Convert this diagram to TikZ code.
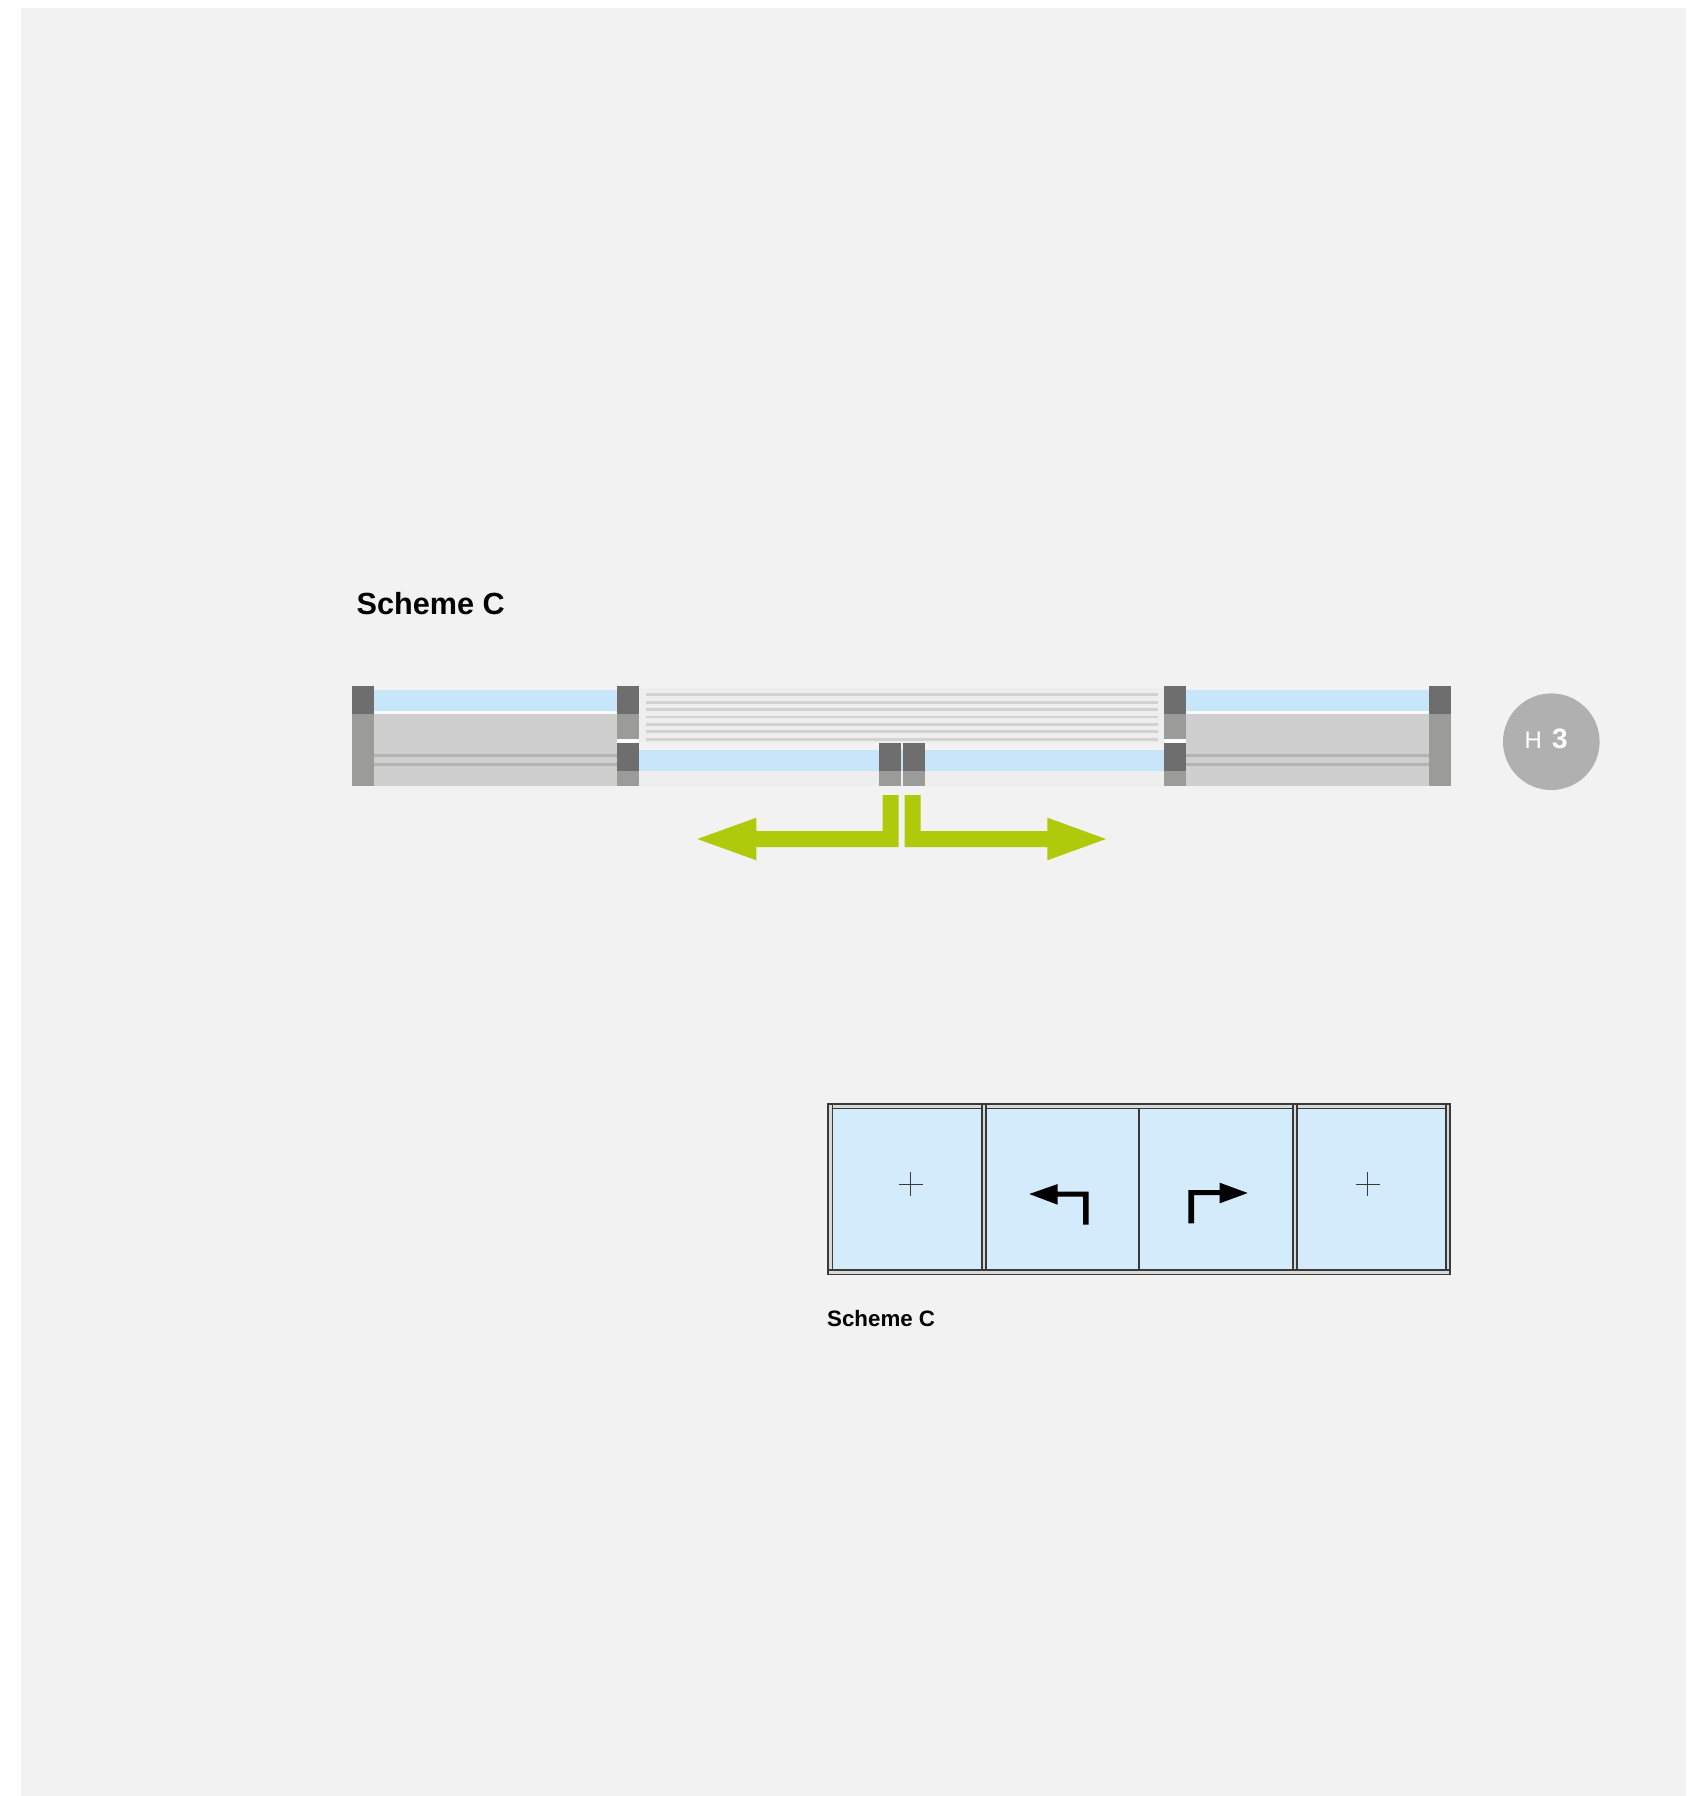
\documentclass[tikz,border=0pt]{standalone}
\usepackage{fontspec}
\setmainfont{Liberation Sans}
\definecolor{pagebg}{HTML}{F2F2F2}
\definecolor{postdark}{HTML}{6E6E6E}
\definecolor{postmid}{HTML}{9B9B99}
\definecolor{wallgrey}{HTML}{CFCFCF}
\definecolor{railgrey}{HTML}{B2B2B2}
\definecolor{glassblue}{HTML}{C8E6F9}
\definecolor{paleblue}{HTML}{D3EBFB}
\definecolor{foldline}{HTML}{D2D2D2}
\definecolor{foldbg}{HTML}{EEEEEE}
\definecolor{movegreen}{HTML}{AFCA0B}
\definecolor{badge}{HTML}{B0B0B0}
\definecolor{framedark}{HTML}{3A3A3A}
\tikzset{
  dark/.style={fill=postdark,draw=none},
  mid/.style={fill=postmid,draw=none},
  wall/.style={fill=wallgrey,draw=none},
  glass/.style={fill=glassblue,draw=none},
  rail/.style={draw=railgrey,line width=3pt},
  fold/.style={draw=foldline,line width=2.8pt},
  movearrow/.style={fill=movegreen,draw=none},
  frameband/.style={fill=white!85!black,draw=framedark,line width=1.4pt},
  pane/.style={fill=paleblue,draw=none},
  plusmark/.style={draw=framedark,line width=1.4pt},
  openarrow/.style={fill=black,draw=none},
  title/.style={font=\bfseries,inner sep=0pt,anchor=base west,text=black}
}
\begin{document}
\begin{tikzpicture}[x=1pt,y=-1pt]
\useasboundingbox (0,0) rectangle (1703,1796);
\fill[white] (0,0) rectangle (1703,1796);
\fill[pagebg] (21,8) rectangle (1686,1796);

% top plan: walls and glass
\fill[wall] (374.3,714.3) rectangle (617.3,786);
\fill[wall] (1186.3,714.3) rectangle (1429.3,786);
\fill[white!50!pagebg] (374.3,711) rectangle (617.3,714.3);
\fill[white!50!pagebg] (1186.3,711) rectangle (1429.3,714.3);
\fill[glass] (374.3,690) rectangle (617.3,711);
\fill[glass] (1186.3,690) rectangle (1429.3,711);
\draw[rail] (374.3,755.7) -- (617.3,755.7);
\draw[rail] (374.3,764.3) -- (617.3,764.3);
\draw[rail] (1186.3,755.7) -- (1429.3,755.7);
\draw[rail] (1186.3,764.3) -- (1429.3,764.3);

% folded stack and sliding glass
\fill[foldbg] (639,688) rectangle (1164.3,743.3);
\foreach \yy in {694.7,702.1,709.5,716.9,724.3,731.7,739.1}
  \draw[fold] (645.7,\yy) -- (1158.3,\yy);
\fill[foldbg] (639,771) rectangle (1164.3,786);
\fill[glass] (639,750) rectangle (1164.3,771);
\fill[white] (617.3,739.3) rectangle (639,743.3);
\fill[white] (1164.3,739.3) rectangle (1186.3,743.3);

% posts
\fill[mid] (352.3,714.3) rectangle (374.3,786);
\fill[dark] (352.3,686) rectangle (374.3,714.3);
\fill[mid] (1429.3,714.3) rectangle (1451.3,786);
\fill[dark] (1429.3,686) rectangle (1451.3,714.3);
\fill[mid] (617.3,714.3) rectangle (639,739.3);
\fill[dark] (617.3,686) rectangle (639,714.3);
\fill[mid] (617.3,771) rectangle (639,786);
\fill[dark] (617.3,743.3) rectangle (639,771);
\fill[mid] (1164.3,714.3) rectangle (1186.3,739.3);
\fill[dark] (1164.3,686) rectangle (1186.3,714.3);
\fill[mid] (1164.3,771) rectangle (1186.3,786);
\fill[dark] (1164.3,743.3) rectangle (1186.3,771);
\fill[mid] (879,771.3) rectangle (900.7,786);
\fill[dark] (879,743) rectangle (900.7,771.3);
\fill[mid] (903,771.3) rectangle (924.7,786);
\fill[dark] (903,743) rectangle (924.7,771.3);

% green movement arrows
\fill[movearrow] (882.7,795) -- (898.7,795) -- (898.7,847) -- (756.3,847) -- (756.3,860.3)
  -- (697.3,839) -- (756.3,817.7) -- (756.3,831) -- (882.7,831) -- cycle;
\fill[movearrow] (920.7,795) -- (904.7,795) -- (904.7,847) -- (1047.3,847) -- (1047.3,860.3)
  -- (1106,839) -- (1047.3,817.7) -- (1047.3,831) -- (920.7,831) -- cycle;

% badge
\node[circle,fill=badge,draw=none,minimum size=96.6pt,inner sep=0pt] (hbadge) at (1551.3,741.7) {};
\node[inner sep=0pt,anchor=base west,text=white,font=\fontsize{24}{24}\selectfont] (hletter) at (1524.5,748.3) {H};
\node[inner sep=0pt,anchor=base west,text=white,font=\fontsize{28}{28}\selectfont\bfseries] (hnumber) at (1552,748.3) {3};

% titles
\node[title,font=\fontsize{30.6}{30.6}\selectfont\bfseries] (titletop) at (356.5,614) {Scheme C};
\node[title,font=\fontsize{22.3}{22.3}\selectfont\bfseries] (titlebottom) at (827,1326.7) {Scheme C};

% elevation
\fill[pane] (832.7,1108.3) rectangle (1445.7,1269.3);
\draw[frameband] (827.9,1103.9) rectangle (1450.1,1108.3);
\draw[frameband] (827.9,1269.9) rectangle (1450.1,1274.4);
\draw[frameband] (827.9,1103.9) rectangle (832.4,1269.9);
\draw[frameband] (981.8,1103.9) rectangle (986,1269.9);
\draw[frameband] (1292.8,1103.9) rectangle (1297,1269.9);
\draw[frameband] (1446,1103.9) rectangle (1450.1,1269.9);
\draw[framedark,line width=1.8pt] (1139,1108.3) -- (1139,1269.9);
\draw[plusmark] (898.7,1184.3) -- (922.7,1184.3) (910.7,1172.3) -- (910.7,1196.3);
\draw[plusmark] (1355.7,1184.3) -- (1379.7,1184.3) (1367.7,1172.3) -- (1367.7,1196.3);
\fill[openarrow] (1029.3,1194) -- (1057.7,1184) -- (1057.7,1191.7) -- (1088.7,1191.7) -- (1088.7,1224.7)
  -- (1083,1224.7) -- (1083,1196.7) -- (1057.7,1196.7) -- (1057.7,1204.7) -- cycle;
\fill[openarrow] (1247.7,1193) -- (1219.7,1182.7) -- (1219.7,1190) -- (1188.3,1190) -- (1188.3,1223.3)
  -- (1194,1223.3) -- (1194,1195) -- (1219.7,1195) -- (1219.7,1203.3) -- cycle;
\end{tikzpicture}
\end{document}
